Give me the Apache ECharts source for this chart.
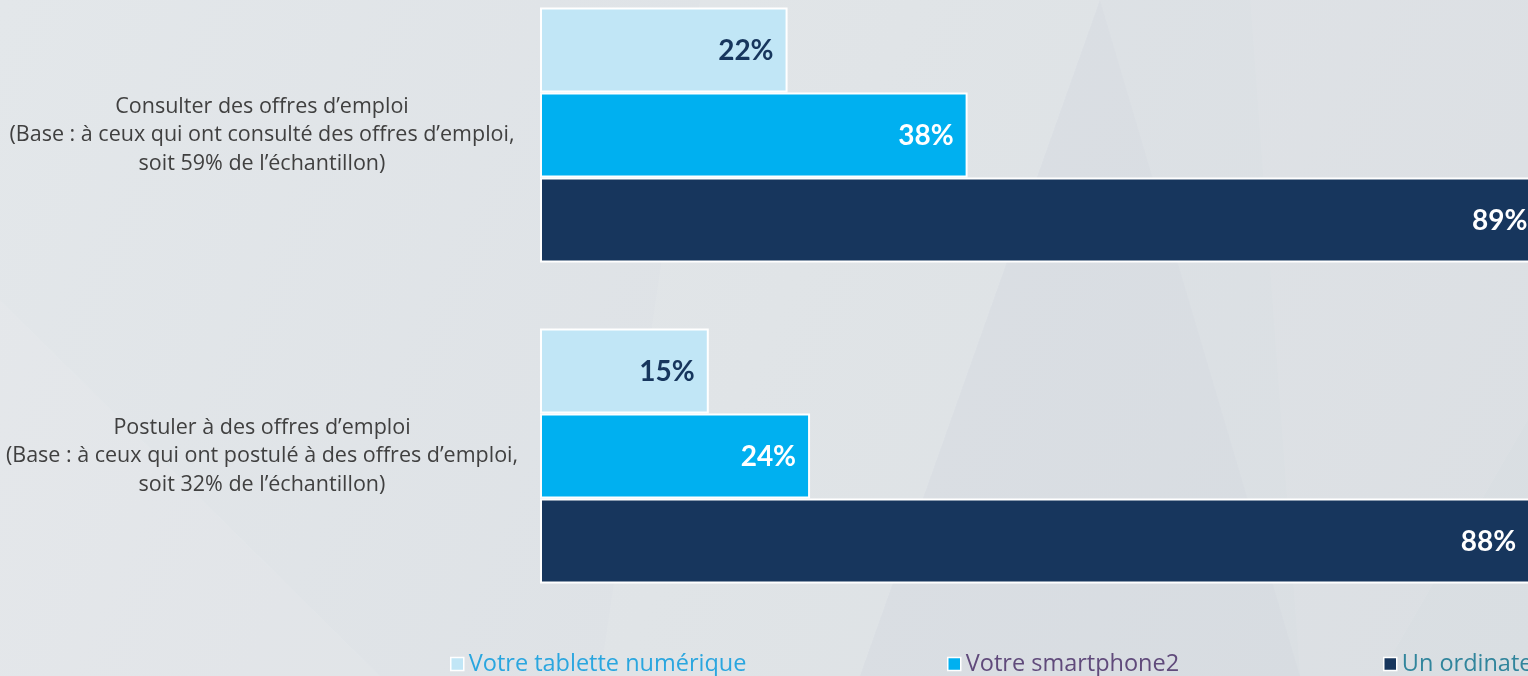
<!DOCTYPE html>
<html>
<head>
<meta charset="utf-8">
<script src="https://cdn.jsdelivr.net/npm/echarts@6/dist/echarts.min.js"></script>
<style>
  html, body { margin: 0; padding: 0; }
  #chart { width: 1528px; height: 676px; }
</style>
</head>
<body>
<div id="chart"></div>
<script>
const categories = [
  'Consulter des offres d’emploi\n(Base : à ceux qui ont consulté des offres d’emploi,\nsoit 59% de l’échantillon)',
  'Postuler à des offres d’emploi\n(Base : à ceux qui ont postulé à des offres d’emploi,\nsoit 32% de l’échantillon)'
]
const seriesNames = ['Votre tablette numérique', 'Votre smartphone2', 'Un ordinateur']
const tablette = [22, 15]
const smartphone = [38, 24]
const ordinateur = [89, 88]

const colors = ['#c1e6f6', '#00b0f0', '#17365d']
const labelColors = ['#17365d', '#ffffff', '#ffffff']
const legendColors = ['#2aa6df', '#604a7b', '#31859c']
const legendLeft = [445, 942, 1378]

const chart = echarts.init(document.getElementById('chart'))

function makeSeries (i, data) {
  return {
    name: seriesNames[i],
    type: 'bar',
    data: data,
    barWidth: 85,
    barGap: '0%',
    clip: false,
    itemStyle: { color: colors[i], borderColor: '#ffffff', borderWidth: 2 },
    label: {
      show: true,
      position: 'insideRight',
      distance: 14,
      formatter: '{c}%',
      color: labelColors[i],
      fontFamily: 'Lato',
      fontWeight: 'bold',
      fontSize: 28,
      offset: [0, 1]
    }
  }
}

// faint facets of the slide background
function facet (points, color) {
  return { type: 'polygon', silent: true, z: -10, shape: { points: points }, style: { fill: color } }
}

chart.setOption({
  backgroundColor: {
    type: 'linear', x: 0, y: 0, x2: 1, y2: 1,
    colorStops: [
      { offset: 0, color: '#e3e7ea' },
      { offset: 0.5, color: '#dee2e6' },
      { offset: 1, color: '#d9dee2' }
    ]
  },
  animation: false,
  graphic: [
    facet([[700, 0], [1100, 0], [860, 676], [600, 676]], 'rgba(255,255,255,0.07)'),
    facet([[860, 676], [1100, 0], [1300, 676]], 'rgba(120,135,150,0.025)'),
    facet([[1250, 0], [1528, 0], [1528, 420], [1380, 676], [1300, 676]], 'rgba(255,255,255,0.06)'),
    facet([[0, 300], [380, 676], [0, 676]], 'rgba(255,255,255,0.07)')
  ],
  legend: seriesNames.map(function (n, i) {
    return {
      data: [{ name: n, textStyle: { color: legendColors[i] } }],
      left: legendLeft[i],
      top: 647,
      itemWidth: 13,
      itemHeight: 13,
      itemGap: 6,
      icon: 'rect',
      itemStyle: { borderColor: '#ffffff', borderWidth: 1.5 },
      textStyle: { fontFamily: 'Open Sans', fontSize: 23.5 }
    }
  }),
  grid: { left: 540, right: 0, top: 135, bottom: 220, containLabel: false, outerBoundsMode: 'none' },
  xAxis: {
    type: 'value',
    min: 0,
    max: 87.8,
    show: false
  },
  yAxis: {
    type: 'category',
    data: categories,
    inverse: true,
    boundaryGap: false,
    axisLine: { show: false },
    axisTick: { show: false },
    splitLine: { show: false },
    axisLabel: {
      align: 'center',
      margin: 278,
      color: '#404040',
      fontFamily: 'Open Sans',
      fontSize: 21.5,
      lineHeight: 28.5,
      padding: [4, 0, 0, 0]
    }
  },
  series: [
    makeSeries(0, tablette),
    makeSeries(1, smartphone),
    makeSeries(2, ordinateur)
  ]
})
</script>
</body>
</html>
